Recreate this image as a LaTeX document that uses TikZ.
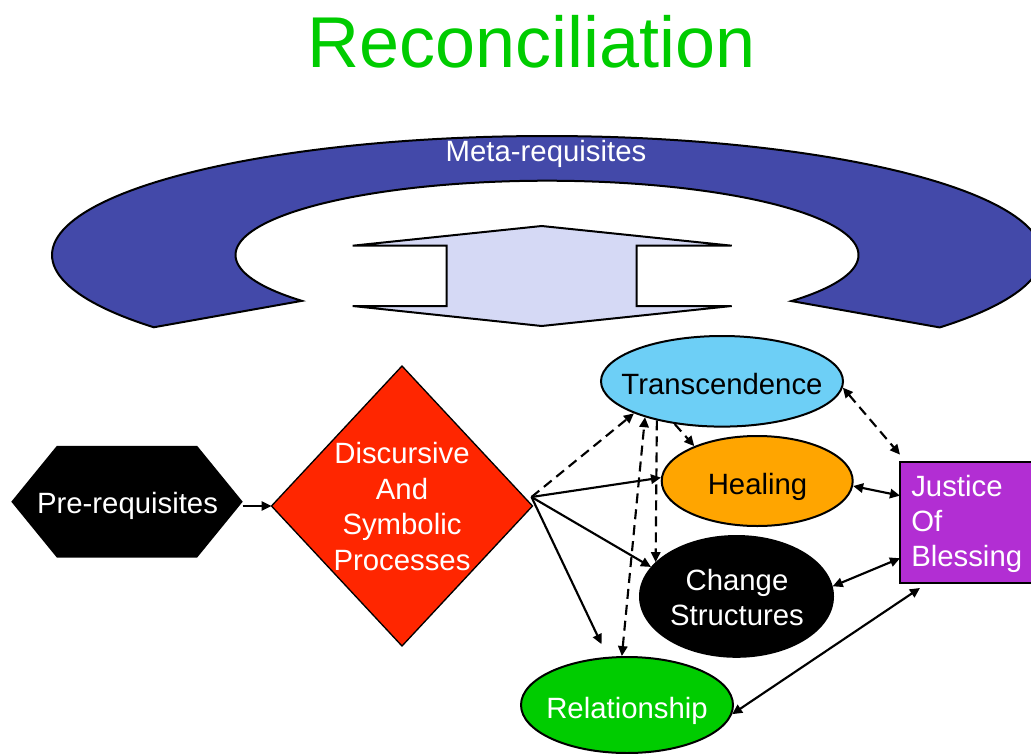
\documentclass[tikz,border=0pt]{standalone}
\usepackage{fontspec}
\setmainfont{Liberation Sans}
\usetikzlibrary{arrows.meta,calc,shapes.geometric}
\definecolor{titlegreen}{RGB}{0,204,0}
\definecolor{metablue}{RGB}{67,73,169}
\definecolor{arrowlav}{RGB}{213,217,245}
\definecolor{diared}{RGB}{255,38,0}
\definecolor{trablue}{RGB}{109,207,246}
\definecolor{heaorange}{RGB}{255,165,0}
\definecolor{relgreen}{RGB}{0,204,0}
\definecolor{juspurple}{RGB}{178,46,211}
\tikzset{
  lbl/.style={inner sep=0pt, anchor=base, font=\fontsize{22}{26.5}\selectfont},
  holder/.style={inner sep=0pt, outer sep=0pt, draw=none},
  oval/.style={ellipse, inner sep=0pt, draw=black, line width=1.5pt},
  conn/.style={line width=1.6pt, -{Triangle[length=7.5pt,width=7pt]}},
  dconn/.style={conn, dash pattern=on 7.5pt off 4.5pt},
  dbl/.style={line width=1.6pt, {Triangle[length=7.5pt,width=7pt]}-{Triangle[length=7.5pt,width=7pt]}},
  ddbl/.style={dbl, dash pattern=on 7.5pt off 4.5pt}
}
\begin{document}
\begin{tikzpicture}[x=0.75pt,y=-0.75pt]
\useasboundingbox (0,0) rectangle (1031,753);
\clip (0,0) rectangle (1031,753);

% title
\node[inner sep=0pt, anchor=base, text=titlegreen, font=\fontsize{54}{60}\selectfont] (title) at (531.5,67) {Reconciliation};

% meta-requisites arc
\draw[fill=metablue, line width=1.5pt, line join=miter]
  plot[domain=142.6:397.5, samples=150] ({547+495*cos(\x)},{255+119*sin(\x)})
  -- plot[domain=-398.3:-141.9, samples=150] ({547+311.5*cos(-\x)},{255+74.3*sin(-\x)})
  -- cycle;
\node[lbl, text=white] (meta) at (546,161) {Meta-requisites};

% double block arrow
\draw[fill=arrowlav, line width=1.5pt, line join=miter]
  (541.7,226) -- (731.7,245.7) -- (636.7,245.7) -- (636.7,306) -- (731.7,306)
  -- (541.7,326) -- (352.7,306) -- (446.7,306) -- (446.7,245.7) -- (352.7,245.7) -- cycle;

% pre-requisites hexagon
\node[holder, minimum width=173.55pt, minimum height=83.7pt] (pre) at (127,501.7) {};
\fill[black] (pre.west) -- ($(pre.north west)+(45.5,0)$) -- ($(pre.north east)+(-45.5,0)$)
  -- (pre.east) -- ($(pre.south east)+(-45.5,0)$) -- ($(pre.south west)+(45.5,0)$) -- cycle;
\node[lbl, text=white] (pret) at (127.5,513.3) {Pre-requisites};

% diamond
\node[holder, minimum width=195.75pt, minimum height=210pt] (dia) at (402,506) {};
\draw[fill=diared, line width=1pt] (dia.north) -- (dia.east) -- (dia.south) -- (dia.west) -- cycle;
\node[lbl, text=white, font=\fontsize{22}{26.85}\selectfont] (diat) at (402,463.3)
  {\begin{tabular}[t]{@{}c@{}}Discursive\\And\\Symbolic\\Processes\end{tabular}};

% ellipses
\node[oval, fill=trablue, minimum width=181.5pt, minimum height=67.95pt] (tra) at (722,381.3) {};
\node[lbl] (trat) at (722,394) {Transcendence};
\node[oval, fill=heaorange, minimum width=143.25pt, minimum height=67.5pt] (hea) at (757.2,481) {};
\node[lbl] (heat) at (757.5,494.3) {Healing};
\node[oval, fill=black, minimum width=144.75pt, minimum height=90.6pt] (chg) at (736.5,596.4) {};
\node[lbl, text=white] (chgt) at (737,590)
  {\begin{tabular}[t]{@{}c@{}}Change\\Structures\end{tabular}};
\node[oval, fill=relgreen, minimum width=159pt, minimum height=72pt] (rel) at (627,705) {};
\node[lbl, text=white] (relt) at (627,718.3) {Relationship};

% justice box
\node[holder, draw=black, line width=1.5pt, fill=juspurple, minimum width=101.25pt, minimum height=91pt] (jus) at (967.5,522.3) {};
\node[lbl, anchor=base west, text=white, font=\fontsize{22}{26.25}\selectfont] (just) at (911,496.7)
  {\begin{tabular}[t]{@{}l@{}}Justice\\Of\\Blessing\end{tabular}};

% connectors
\coordinate (src) at ($(dia.east)+(-1,-9)$);
\draw[conn] (pre.east |- dia.west) -- (dia.west);
\draw[dconn] (src) -- (tra.200);
\draw[conn] (src) -- (hea.178);
\draw[conn] (src) -- (chg.161);
\draw[conn, shorten >=10.5pt] (src) -- (rel.112);
\draw[ddbl] (rel.96) -- (tra.205);
\draw[dconn] (tra.211) -- (chg.157);
\draw[dconn] (tra.222) -- (hea.151);
\draw[ddbl] (tra.357) -- ($(jus.north west)+(0,-7)$);
\draw[dbl] (hea.357) -- ($(jus.north west)+(0,34)$);
\draw[dbl] (chg.6) -- ($(jus.north west)+(0,96.6)$);
\draw[dbl] (rel.355) -- ($(jus.south west)+(20,5)$);
\end{tikzpicture}
\end{document}
